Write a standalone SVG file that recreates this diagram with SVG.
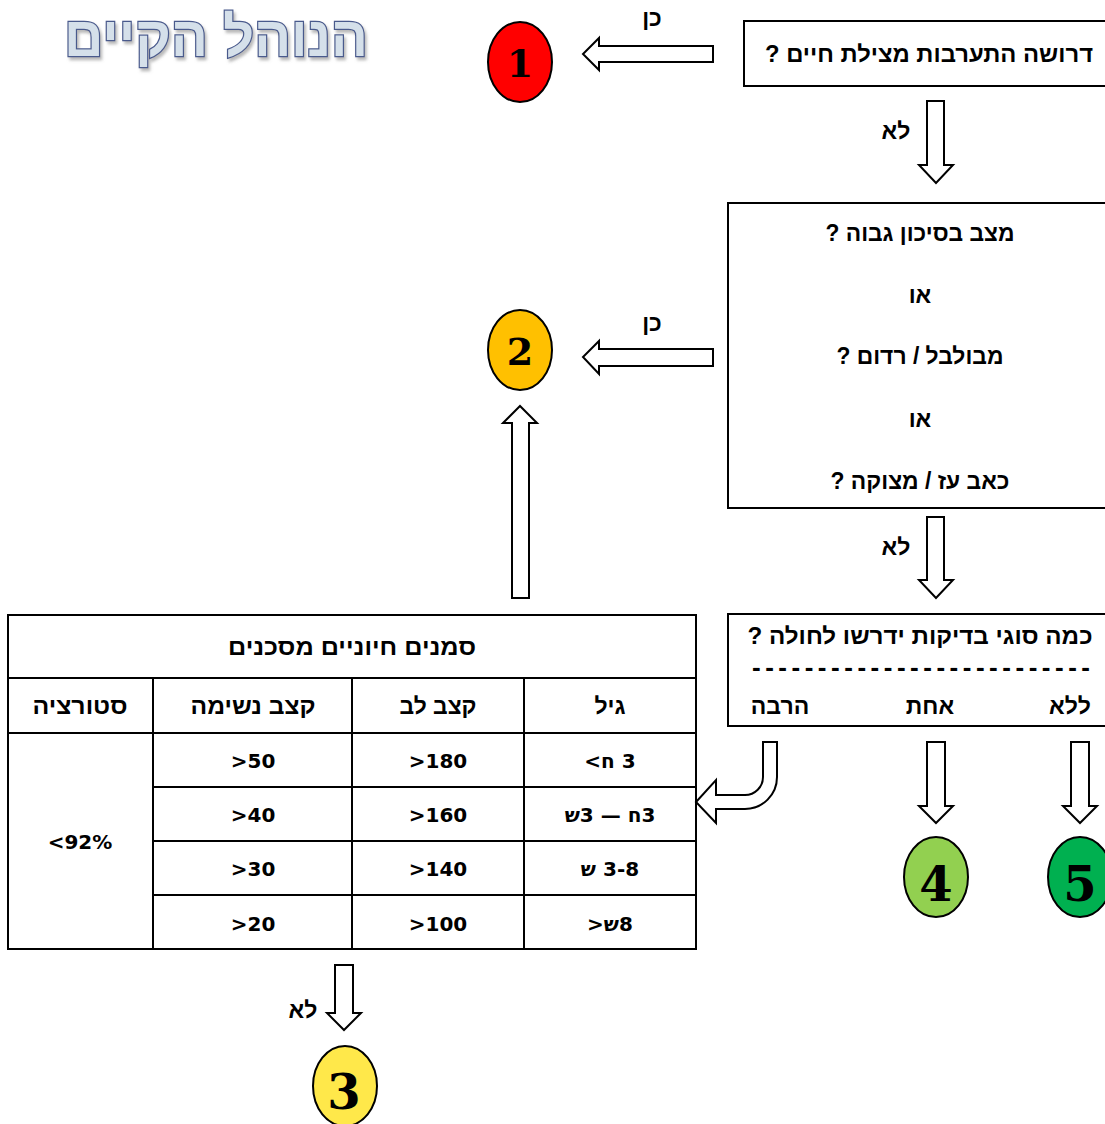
<svg xmlns="http://www.w3.org/2000/svg" width="1105" height="1124" viewBox="0 0 1105 1124">
  <defs>
    <filter id="soft" x="-10%" y="-20%" width="130%" height="150%">
      <feDropShadow dx="2" dy="3" stdDeviation="1.6" flood-color="#7f7f7f" flood-opacity="0.55"/>
    </filter>
  </defs>
  <style>
    .box { fill: #fff; stroke: #000; stroke-width: 2; }
    .arrow { fill: #fff; stroke: #000; stroke-width: 2; stroke-linejoin: miter; }
    .grid { stroke: #000; stroke-width: 2; fill: none; }
    .q { font-family: "Liberation Sans", "DejaVu Sans", sans-serif; font-weight: bold; font-size: 23px; fill: #000; }
    .s { font-family: "Liberation Sans", "DejaVu Sans", sans-serif; font-weight: bold; font-size: 23px; fill: #000; }
    .n { font-family: "DejaVu Sans", sans-serif; font-weight: bold; font-size: 20px; fill: #000; }
    .num { font-family: "DejaVu Serif", serif; font-weight: bold; fill: #000; text-anchor: middle; }
    .vis { unicode-bidi: bidi-override; direction: ltr; }
    .c { text-anchor: middle; }
  </style>

  <!-- title -->
  <g id="title" filter="url(#soft)">
    <text x="216" y="56" direction="rtl" text-anchor="middle" textLength="304" lengthAdjust="spacingAndGlyphs"
          style="font-family:'Liberation Sans','DejaVu Sans',sans-serif;font-weight:bold;font-size:56px;fill:#d5e0ea;stroke:#4a5a8c;stroke-width:2.5;paint-order:stroke">הנוהל הקיים</text>
  </g>

  <!-- connectors -->
  <g id="connectors">
    <polygon class="arrow" points="713,46 599,46 599,38 583,54 599,70 599,62 713,62"/>
    <polygon class="arrow" points="713,349 599,349 599,341 583,357 599,374 599,366 713,366"/>
    <polygon class="arrow" points="927,101 944,101 944,165 953,165 936,183 919,165 927,165"/>
    <polygon class="arrow" points="927,517 944,517 944,580 953,580 936,598 919,580 927,580"/>
    <polygon class="arrow" points="512,598 529,598 529,423 537,423 520,406 503,423 512,423"/>
    <polygon class="arrow" points="927,742 945,742 945,806 953,806 936,823 919,806 927,806"/>
    <polygon class="arrow" points="1071,742 1089,742 1089,806 1097,806 1080,823 1063,806 1071,806"/>
    <polygon class="arrow" points="335,965 353,965 353,1013 361,1013 344,1030 327,1013 335,1013"/>
    <path class="arrow" d="M763,742 L777,742 L777,777 A32,32 0 0 1 745,809 L716,809 L716,823 L696,802 L716,780 L716,795 L745,795 A18,18 0 0 0 763,777 Z"/>
    <text class="q c" x="652" y="26" direction="rtl">כן</text>
    <text class="q c" x="652" y="331" direction="rtl">כן</text>
    <text class="q c" x="896" y="139" direction="rtl">לא</text>
    <text class="q c" x="896" y="555" direction="rtl">לא</text>
    <text class="q c" x="303" y="1018" direction="rtl">לא</text>
  </g>

  <!-- outcome 1 -->
  <g id="outcome1">
    <ellipse cx="520" cy="62" rx="32" ry="40" fill="#ff0000" stroke="#000" stroke-width="2"/>
    <text class="num" x="520" y="77" font-size="38">1</text>
  </g>

  <!-- outcome 2 -->
  <g id="outcome2">
    <ellipse cx="520" cy="350" rx="32" ry="40" fill="#ffc000" stroke="#000" stroke-width="2"/>
    <text class="num" x="520" y="365" font-size="38">2</text>
  </g>

  <!-- outcome 3 -->
  <g id="outcome3">
    <ellipse cx="345" cy="1086" rx="32" ry="40" fill="#ffe84a" stroke="#000" stroke-width="2"/>
    <text class="num" x="344" y="1109" font-size="48">3</text>
  </g>

  <!-- outcome 4 -->
  <g id="outcome4">
    <ellipse cx="936" cy="877" rx="32" ry="40" fill="#92d050" stroke="#000" stroke-width="2"/>
    <text class="num" x="936" y="901" font-size="48">4</text>
  </g>

  <!-- outcome 5 -->
  <g id="outcome5">
    <ellipse cx="1080" cy="877" rx="32" ry="40" fill="#00b050" stroke="#000" stroke-width="2"/>
    <text class="num" x="1080" y="901" font-size="48">5</text>
  </g>

  <!-- question: life-saving intervention -->
  <g id="q-lifesaving">
    <rect class="box" x="744" y="21" width="370" height="65"/>
    <text class="q c" x="929" y="62" direction="rtl" textLength="328" lengthAdjust="spacingAndGlyphs">דרושה התערבות מצילת חיים ?</text>
  </g>

  <!-- question: high-risk state -->
  <g id="q-highrisk">
    <rect class="box" x="728" y="203" width="386" height="305"/>
    <text class="q c" x="920" y="241" direction="rtl" textLength="189" lengthAdjust="spacingAndGlyphs">מצב בסיכון גבוה ?</text>
    <text class="q c" x="920" y="303" direction="rtl">או</text>
    <text class="q c" x="920" y="364" direction="rtl" textLength="167" lengthAdjust="spacingAndGlyphs">מבולבל / רדום ?</text>
    <text class="q c" x="920" y="427" direction="rtl">או</text>
    <text class="q c" x="920" y="489" direction="rtl" textLength="179" lengthAdjust="spacingAndGlyphs">כאב עז / מצוקה ?</text>
  </g>

  <!-- question: number of test types -->
  <g id="q-resources">
    <rect class="box" x="728" y="614" width="386" height="112"/>
    <text class="q c" x="920" y="644" direction="rtl" textLength="345" lengthAdjust="spacingAndGlyphs">כמה סוגי בדיקות ידרשו לחולה ?</text>
    <text class="c" x="921" y="676" textLength="338" lengthAdjust="spacing"
          style="font-family:'Liberation Sans',sans-serif;font-weight:bold;font-size:26px">--------------------------</text>
    <text class="s c" x="1070" y="714" direction="rtl">ללא</text>
    <text class="s c" x="930" y="714" direction="rtl">אחת</text>
    <text class="s c" x="780" y="714" direction="rtl">הרבה</text>
  </g>

  <!-- danger-zone vital signs table -->
  <g id="vitals-table">
    <rect class="grid" x="8" y="615" width="688" height="334"/>
    <line class="grid" x1="8" y1="678" x2="696" y2="678"/>
    <line class="grid" x1="8" y1="733" x2="696" y2="733"/>
    <line class="grid" x1="153" y1="787" x2="696" y2="787"/>
    <line class="grid" x1="153" y1="841" x2="696" y2="841"/>
    <line class="grid" x1="153" y1="895" x2="696" y2="895"/>
    <line class="grid" x1="153" y1="678" x2="153" y2="949"/>
    <line class="grid" x1="352" y1="678" x2="352" y2="949"/>
    <line class="grid" x1="524" y1="678" x2="524" y2="949"/>

    <text class="s c" x="352" y="655" direction="rtl" textLength="248" lengthAdjust="spacingAndGlyphs">סמנים חיוניים מסכנים</text>
    <text class="s c" x="80" y="714" direction="rtl" textLength="95" lengthAdjust="spacingAndGlyphs">סטורציה</text>
    <text class="s c" x="253" y="714" direction="rtl" textLength="125" lengthAdjust="spacingAndGlyphs">קצב נשימה</text>
    <text class="s c" x="438" y="714" direction="rtl" textLength="77" lengthAdjust="spacingAndGlyphs">קצב לב</text>
    <text class="s c" x="610" y="714" direction="rtl">גיל</text>

    <text class="n c vis" x="80" y="849">&lt;92%</text>

    <text class="n c vis" x="253" y="768">&gt;50</text>
    <text class="n c vis" x="438" y="768">&gt;180</text>
    <text class="n c vis" x="610" y="768">&lt;ח 3</text>

    <text class="n c vis" x="253" y="822">&gt;40</text>
    <text class="n c vis" x="438" y="822">&gt;160</text>
    <text class="n c vis" x="610" y="822">ש3 — ח3</text>

    <text class="n c vis" x="253" y="876">&gt;30</text>
    <text class="n c vis" x="438" y="876">&gt;140</text>
    <text class="n c vis" x="610" y="876">ש 3-8</text>

    <text class="n c vis" x="253" y="931">&gt;20</text>
    <text class="n c vis" x="438" y="931">&gt;100</text>
    <text class="n c vis" x="610" y="931">&gt;ש8</text>
  </g>
</svg>
